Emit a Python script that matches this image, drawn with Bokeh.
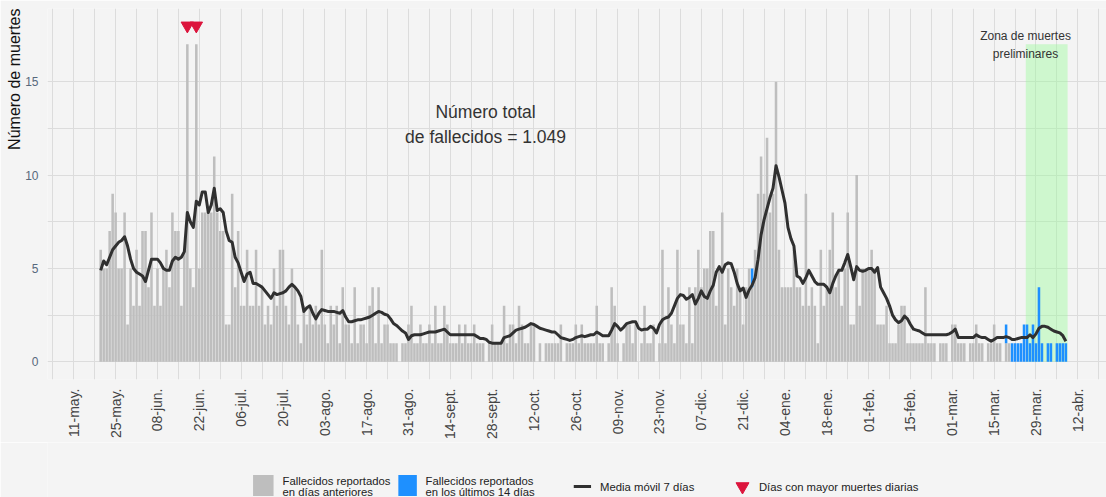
import math
import pandas as pd
from bokeh.plotting import figure
from bokeh.models import ColumnDataSource, Range1d, FixedTicker, Title
from bokeh.layouts import column
from bokeh.embed import file_html
from bokeh.resources import INLINE
from bokeh.core.properties import value

# ---------------- data ----------------
start_date = "2020-05-20"

deaths_previous = [
    6, 5, 5, 7, 9, 8, 5, 5, 8, 2,
    5, 3, 6, 3, 7, 7, 4, 8, 3, 5,
    3, 5, 6, 4, 8, 7, 7, 3, 6, 17,
    5, 4, 17, 5, 8, 8, 8, 8, 11, 8,
    7, 7, 2, 2, 9, 4, 7, 3, 3, 6,
    3, 3, 6, 3, 4, 2, 3, 2, 5, 3,
    6, 6, 3, 2, 5,
    4, 2, 1, 3, 2, 3, 2, 3, 2, 6, 2, 1, 3, 2, 3, 1, 4,
    2, 2, 1, 4, 1, 2, 2, 1, 3,
    4, 1, 4, 1, 2, 2, 1,
    1, 1, 0, 1, 1, 2, 3,
    1, 1, 2, 1, 1, 2, 1, 3, 1, 1, 3, 2, 1, 1, 1, 2, 1, 2, 1, 1, 2,
    1, 1, 1, 0, 1, 2, 1, 1, 1,
    3, 1, 2, 2, 1, 3, 2, 1, 1, 2,
    2, 0, 1, 0, 1, 1, 1, 1, 1, 2,
    0, 1, 1, 1, 2, 1, 2, 1, 1, 1,
    1, 3, 1, 1, 0,
    1, 4, 3, 1,
    0, 1, 2, 2, 1, 2, 0, 1, 3, 1,
    1, 2, 0, 1, 6, 1, 4, 2, 1, 6,
    2, 2,
    1, 4, 1, 4, 6, 4, 5, 5, 7, 7,
    3, 5, 8, 2, 5, 4, 3, 5, 4, 2,
    4, 5, 4, 6, 9, 11, 9, 12, 8, 9,
    15, 6, 4, 4, 4, 4, 6, 4, 4, 3,
    9, 3, 4, 3, 1, 6, 3, 4, 6, 8,
    4, 5, 3, 5, 8, 2, 2, 10, 3, 5,
    5, 5, 6, 5,
    2, 2, 2, 3, 1, 1, 1, 2, 3, 3,
    1, 1, 1, 1, 1, 1, 4, 1, 1, 1,
    0, 1, 1, 1, 0, 2, 2, 1, 1, 1,
    0, 1, 1, 2, 1, 1, 0, 1, 1, 2,
    1, 1, 0, 1, 1,
    0, 0, 0, 0, 0, 0, 0, 0, 0, 0, 0, 0, 0, 0, 0, 0, 0, 0, 0,
]

recent_dates = [
    "2020-12-24", "2021-03-19", "2021-03-21", "2021-03-22", "2021-03-23",
    "2021-03-24", "2021-03-25", "2021-03-26", "2021-03-27", "2021-03-28",
    "2021-03-29", "2021-03-30", "2021-03-31", "2021-04-01", "2021-04-02",
    "2021-04-03", "2021-04-04", "2021-04-05", "2021-04-06", "2021-04-07",
    "2021-04-08",
]
recent_counts = [1, 1, 1, 1, 1, 1, 2, 2, 1, 2, 1, 4, 1, 0, 1, 1, 0, 1, 1, 1, 1]

moving_avg_7d = [
    4.9, 5.4, 5.2, 5.6, 6.0, 6.2, 6.4, 6.5, 6.7, 6.2,
    5.5, 5.0, 4.8, 4.7, 4.6, 4.3, 4.9, 5.5, 5.5, 5.5,
    5.3, 5.0, 4.9, 4.9, 5.4, 5.6, 5.5, 5.6, 5.9, 8.0,
    7.5, 7.2, 8.6, 8.4, 9.1, 9.1, 8.0, 8.4, 9.3, 8.1,
    8.2, 8.0, 7.0, 6.5, 6.4, 5.6, 5.3, 4.8, 4.3, 4.7,
    4.8, 4.2, 4.2, 4.1, 4.0, 3.8, 3.6, 3.4, 3.7, 3.6,
    3.65, 3.7, 3.8, 4.0, 4.15, 4.0, 3.8, 3.5, 2.7, 2.9,
    3.0, 2.6, 2.3, 2.6, 2.8, 2.75, 2.7, 2.7, 2.7, 2.65,
    2.6, 2.75, 2.4, 2.15, 2.15, 2.2, 2.25, 2.25, 2.3, 2.35,
    2.4, 2.5, 2.6, 2.7, 2.65, 2.55, 2.5, 2.3, 2.05, 1.95,
    1.8, 1.65, 1.55, 1.2, 1.4, 1.45, 1.45, 1.45, 1.5, 1.55,
    1.6, 1.6, 1.6, 1.65, 1.7, 1.75, 1.6, 1.45, 1.45, 1.45,
    1.45, 1.45, 1.45, 1.45, 1.45, 1.45, 1.35, 1.25, 1.25, 1.2,
    1.05, 1.0, 1.0, 1.0, 1.0, 1.3, 1.35, 1.4, 1.55, 1.7,
    1.75, 1.8, 1.85, 1.95, 2.05, 2.0, 1.9, 1.8, 1.75, 1.7,
    1.65, 1.6, 1.6, 1.45, 1.3, 1.25, 1.2, 1.15, 1.2, 1.3,
    1.35, 1.4, 1.35, 1.4, 1.45, 1.45, 1.6, 1.5, 1.4, 1.4,
    1.4, 1.7, 2.05, 1.9, 1.7, 1.85, 2.05, 2.1, 2.15,
    2.15, 1.8, 1.7, 1.75, 1.75, 1.9, 1.8, 1.55, 2.0, 2.25,
    2.35, 2.4, 2.6, 3.0, 3.4, 3.6, 3.55, 3.35, 3.45, 3.6,
    3.1, 3.4, 3.8, 3.5, 3.4, 3.8, 4.1, 4.8, 5.1, 4.8,
    5.2, 5.3, 5.25, 4.8, 4.2, 3.8, 3.95, 3.45, 3.85, 4.1,
    4.5, 5.5, 6.8, 7.6, 8.2, 8.8, 9.3, 10.5, 9.9, 9.2,
    8.5, 7.2, 6.6, 6.2, 4.6, 4.5, 4.2, 4.5, 4.9, 4.6,
    4.3, 4.15, 4.15, 4.15, 4.0, 3.7, 4.2, 4.6, 4.9, 4.9,
    5.3, 5.75, 5.1, 4.4, 5.1, 4.9, 4.85, 4.9, 5.0, 5.0,
    4.8, 5.05, 4.0, 3.7, 3.4, 3.0, 2.5, 2.25, 2.1, 2.2,
    2.45, 2.3, 2.0, 1.75, 1.7, 1.65, 1.55, 1.45, 1.45, 1.45,
    1.45, 1.45, 1.45, 1.45, 1.45, 1.5, 1.6, 1.75, 1.3, 1.3,
    1.3, 1.3, 1.3, 1.3, 1.45, 1.35, 1.3, 1.3, 1.2, 1.1,
    1.2, 1.3, 1.3, 1.3, 1.35, 1.3, 1.2, 1.2, 1.25, 1.3,
    1.3, 1.3, 1.45, 1.3, 1.5, 1.8, 1.9, 1.9, 1.85, 1.75,
    1.65, 1.6, 1.55, 1.4, 1.1,
]

tick_dates = [
    "2020-05-11", "2020-05-25", "2020-06-08", "2020-06-22", "2020-07-06",
    "2020-07-20", "2020-08-03", "2020-08-17", "2020-08-31", "2020-09-14",
    "2020-09-28", "2020-10-12", "2020-10-26", "2020-11-09", "2020-11-23",
    "2020-12-07", "2020-12-21", "2021-01-04", "2021-01-18", "2021-02-01",
    "2021-02-15", "2021-03-01", "2021-03-15", "2021-03-29", "2021-04-12",
]
tick_labels = [
    "11-may.", "25-may.", "08-jun.", "22-jun.", "06-jul.",
    "20-jul.", "03-ago.", "17-ago.", "31-ago.", "14-sept.",
    "28-sept.", "12-oct.", "26-oct.", "09-nov.", "23-nov.",
    "07-dic.", "21-dic.", "04-ene.", "18-ene.", "01-feb.",
    "15-feb.", "01-mar.", "15-mar.", "29-mar.", "12-abr.",
]
y_ticks = [0, 5, 10, 15]
total_text = ["Número total", "de fallecidos = 1.049"]
zone_text = ["Zona de muertes", "preliminares"]
zone_bounds = ["2021-03-25 14:00", "2021-04-08 14:00"]

# ---------------- styling ----------------
FONT = "Liberation Sans"
BG = "#f4f4f4"
GRID = "#dcdcdc"
GRAY = "#BEBEBE"
BLUE = "#1E90FF"
LINE = "#303030"
RED = "#DC143C"
DAY = 86400000.0
FRAME_LEFT = 47
FULL_W = 1106

n = len(deaths_previous)
dates = pd.date_range(start_date, periods=n, freq="D")
recent_map = {pd.Timestamp(d): c for d, c in zip(recent_dates, recent_counts)}
deaths_recent = [recent_map.get(d, 0) for d in dates]
totals = [a + b for a, b in zip(deaths_previous, deaths_recent)]
m = min(n, len(moving_avg_7d))

src = ColumnDataSource(dict(date=dates, prev=deaths_previous, recent=deaths_recent))
line_src = ColumnDataSource(dict(date=dates[:m], ma=moving_avg_7d[:m]))

peak = max(totals)
peak_dates = [d for d, t in zip(dates, totals) if t == peak]

origin = pd.Timestamp("2020-05-11")
x_start = origin - pd.Timedelta(days=8.8)
x_end = origin + pd.Timedelta(days=345.6)

p = figure(width=FULL_W, height=442, x_axis_type="datetime",
           x_range=Range1d(x_start, x_end), y_range=Range1d(-0.945, 18.92),
           output_backend="svg", toolbar_location=None,
           min_border_left=FRAME_LEFT, min_border_right=0, min_border_top=8,
           min_border_bottom=62)
p.background_fill_color = BG
p.border_fill_color = BG
p.outline_line_color = None

# preliminary zone
p.quad(left=[pd.Timestamp(zone_bounds[0])], right=[pd.Timestamp(zone_bounds[1])],
       bottom=[0], top=[17.0], fill_color="#98FB98", fill_alpha=0.42, line_color=None)

p.vbar_stack(["prev", "recent"], x="date", width=0.85 * DAY, source=src,
             fill_color=[GRAY, BLUE], line_color=None)

p.line("date", "ma", source=line_src, line_width=3, line_color=LINE, line_join="round")

p.scatter(x=peak_dates, y=[18.0] * len(peak_dates), marker="inverted_triangle",
          size=12.5, fill_color=RED, line_color=RED)

tx = origin + pd.Timedelta(days=137.8)
p.text(x=[tx, tx], y=[13.38, 12.05], text=total_text, text_align="center",
       text_baseline="middle", text_font=value(FONT), text_font_size="17.5px",
       text_color="#333333")
zx = origin + pd.Timedelta(days=318.5)
p.text(x=[zx, zx], y=[17.47, 16.5], text=zone_text, text_align="center",
       text_baseline="middle", text_font=value(FONT), text_font_size="12px",
       text_color="#333333")

# axes
major_ms = [int(pd.Timestamp(d).value // 10**6) for d in tick_dates]
minor_ms = [t - int(7 * DAY) for t in major_ms] + [major_ms[-1] + int(7 * DAY)]
xt = FixedTicker(ticks=major_ms, minor_ticks=minor_ms)
p.xaxis.ticker = xt
p.xgrid.ticker = xt
p.xaxis.major_label_overrides = {t: l for t, l in zip(major_ms, tick_labels)}
p.xaxis.major_label_orientation = math.pi / 2
p.xaxis.major_label_text_font = FONT
p.xaxis.major_label_text_font_size = "14px"
p.xaxis.major_label_text_color = "#444444"
p.xaxis.major_label_standoff = 3
p.xaxis.axis_line_color = None
p.xaxis.major_tick_line_color = None
p.xaxis.minor_tick_line_color = None

yt = FixedTicker(ticks=y_ticks, minor_ticks=[2.5, 7.5, 12.5])
p.yaxis.ticker = yt
p.ygrid.ticker = yt
p.yaxis.major_label_text_font = FONT
p.yaxis.major_label_text_font_size = "12px"
p.yaxis.major_label_text_color = "#57687c"
p.yaxis.major_label_standoff = 3
p.yaxis.axis_line_color = None
p.yaxis.major_tick_line_color = None
p.yaxis.minor_tick_line_color = None

for g in (p.xgrid, p.ygrid):
    g.grid_line_color = GRID
    g.grid_line_width = 1
    g.minor_grid_line_color = GRID
    g.minor_grid_line_width = 1

p.add_layout(Title(text="Número de muertes", align="right", standoff=0,
                   text_font=FONT, text_font_size="16px", text_font_style="normal",
                   text_color="#111111"), "left")

# ---------------- legend strip (x in page pixels; frame aligned with main plot) ----------------
lg = figure(width=FULL_W, height=55, x_range=Range1d(FRAME_LEFT, FULL_W), y_range=Range1d(0, 55),
            output_backend="svg", toolbar_location=None,
            x_axis_location=None, y_axis_location=None,
            min_border_left=FRAME_LEFT, min_border_right=0, min_border_top=0, min_border_bottom=0)
lg.background_fill_color = BG
lg.border_fill_color = BG
lg.outline_line_color = None
lg.grid.visible = False

lg.rect(x=[262.8], y=[12], width=20.5, height=21, fill_color=GRAY, line_color=None)
lg.rect(x=[407.1], y=[12], width=18.5, height=21, fill_color=BLUE, line_color=None)
lg.rect(x=[581.9], y=[11], width=17.3, height=3.2, fill_color=LINE, line_color=None)
lg.scatter(x=[742], y=[11], marker="inverted_triangle", size=13, fill_color=RED, line_color=RED)

leg_kw = dict(text_align="left", text_baseline="middle", text_font=value(FONT),
              text_font_size="11.3px", text_color="#222222")
lg.text(x=[282, 282, 425, 425], y=[16.5, 5.5, 16.5, 5.5],
        text=["Fallecidos reportados", "en días anteriores",
              "Fallecidos reportados", "en los últimos 14 días"], **leg_kw)
lg.text(x=[599.6, 758.4], y=[11, 11],
        text=["Media móvil 7 días", "Días con mayor muertes diarias"], **leg_kw)

layout = column(p, lg, spacing=0)

open("out.html", "w").write(file_html(layout, INLINE))
